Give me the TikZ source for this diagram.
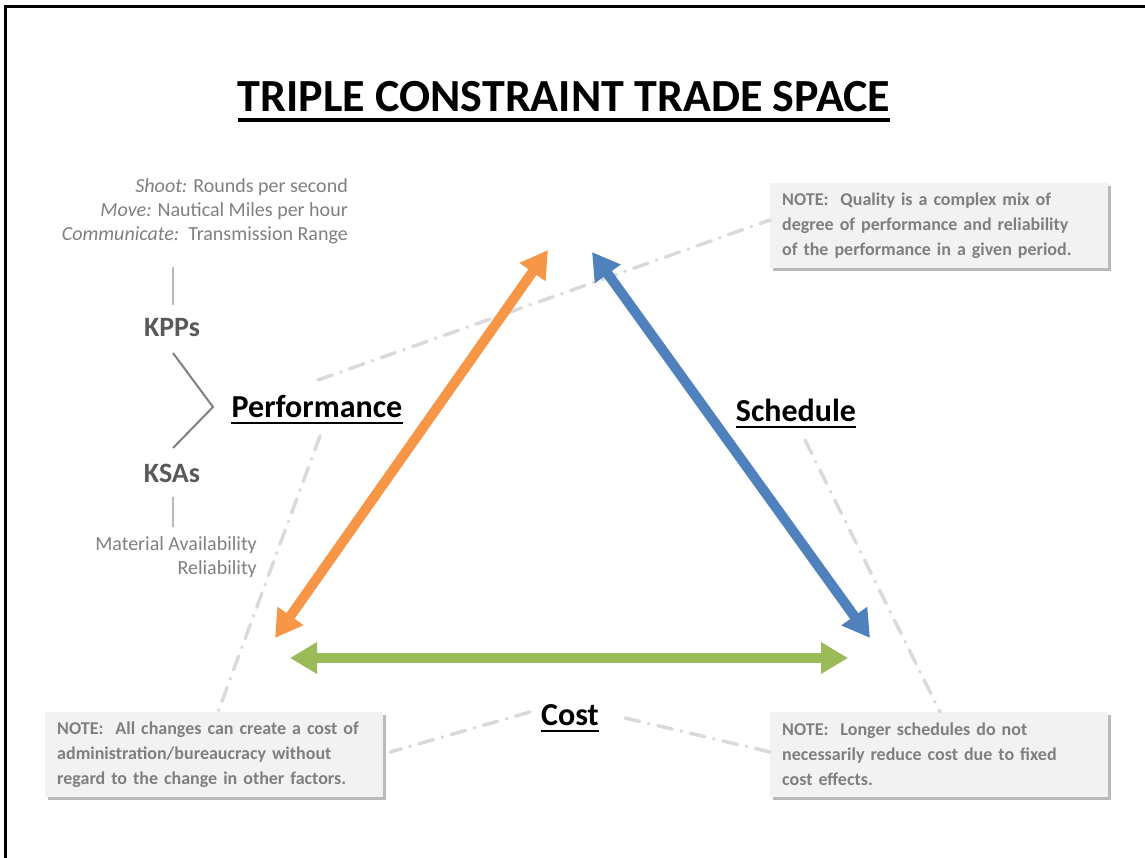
\documentclass[tikz,border=0pt]{standalone}
\usepackage{fontspec}
\setmainfont{Carlito}
\usetikzlibrary{arrows.meta,shadows}

\definecolor{perfOrange}{HTML}{F79646}
\definecolor{schedBlue}{HTML}{4F81BD}
\definecolor{costGreen}{HTML}{9BBB59}
\definecolor{noteFill}{HTML}{F2F2F2}
\definecolor{noteText}{HTML}{7F7F7F}
\definecolor{darkText}{HTML}{595959}
\definecolor{guideGray}{HTML}{DADADA}

\tikzset{
    side/.style={line width=10pt,
        {Triangle[length=27pt,width=30pt]}-{Triangle[length=27pt,width=30pt]}},
    notebox/.style={fill=noteFill, text=noteText, anchor=north west,
        font=\fontsize{18}{25}\selectfont\bfseries,
        text width=314pt, minimum height=85pt, align=left,
        inner xsep=12pt, inner ysep=5pt,
        drop shadow={shadow xshift=3pt, shadow yshift=-3pt, fill=black!45, opacity=0.6}},
    guide/.style={draw=guideGray, line width=3.5pt, line cap=round,
        dash pattern=on 15pt off 9pt on 0.5pt off 9pt},
    heading/.style={font=\fontsize{32}{36}\selectfont\bfseries, inner sep=0pt},
    hint/.style={text=noteText, font=\fontsize{20}{24}\selectfont, inner sep=0pt, anchor=base east},
}

\begin{document}
\begin{tikzpicture}[x=1pt,y=-1pt]

    \useasboundingbox (0,0) rectangle (1145,858);
    \draw[line width=3pt] (5,858) -- (5,7) -- (1145,7);

    % title
    \node[font=\fontsize{46}{50}\selectfont\bfseries, inner sep=0pt] (title) at (564,97)
        {TRIPLE CONSTRAINT TRADE SPACE};
    \draw[line width=3.5pt] ([yshift=-8pt]title.base west) -- ([yshift=-8pt]title.base east);

    % corners of the triangle
    \coordinate (perfLow) at (275,638);
    \coordinate (perfTop) at (548,250);
    \coordinate (schedTop) at (592,252);
    \coordinate (schedLow) at (870,638);
    \coordinate (costLeft) at (290,658);
    \coordinate (costRight) at (848,658);

    % notes
    \node[notebox] (noteQuality) at (770,183)
        {NOTE:\ \ Quality is a complex mix of\\ degree of performance and reliability\\ of the performance in a given period.};
    \node[notebox] (noteChanges) at (45,712)
        {NOTE:\ \ All changes can create a cost of\\ administration/bureaucracy without\\ regard to the change in other factors.};
    \node[notebox] (noteLonger) at (770,712)
        {NOTE:\ \ Longer schedules do not\\ necessarily reduce cost due to fixed\\ cost effects.};

    % labels
    \node[heading] (perf) at (317,406) {Performance};
    \node[heading] (sched) at (796,410) {Schedule};
    \node[heading] (cost) at (570,715) {Cost};
    \foreach \lbl in {perf,sched,cost}
        \draw[line width=2pt] ([yshift=-6pt]\lbl.base west) -- ([yshift=-6pt]\lbl.base east);

    \coordinate (perfUp) at (318,380);
    \coordinate (perfDown) at (320,436);
    \coordinate (schedDown) at (805,440);
    \coordinate (costW) at (530,712);
    \coordinate (costE) at (625,718);
    \coordinate (qualityIn) at (770,220);
    \coordinate (changesTop) at (218,712);
    \coordinate (changesIn) at (390,752);
    \coordinate (longerTop) at (940,712);
    \coordinate (longerIn) at (770,752);

    \draw[guide] (perfUp) -- (qualityIn);
    \draw[guide] (perfDown) -- (changesTop);
    \draw[guide] (schedDown) -- (longerTop);
    \draw[guide] (costW) -- (changesIn);
    \draw[guide] (costE) -- (longerIn);

    % sides
    \draw[side, perfOrange] (perfLow) -- (perfTop);
    \draw[side, schedBlue] (schedTop) -- (schedLow);
    \draw[side, costGreen] (costLeft) -- (costRight);

    % performance measures
    \node[hint] (shoot) at (348,193) {\textit{Shoot:} Rounds per second};
    \node[hint] (move) at (348,217) {\textit{Move:} Nautical Miles per hour};
    \node[hint] (comm) at (348,241) {\textit{Communicate:}\ \ Transmission Range};

    \node[font=\fontsize{28}{30}\selectfont\bfseries, text=darkText] (kpp) at (172,328) {KPPs};
    \node[font=\fontsize{28}{30}\selectfont\bfseries, text=darkText] (ksa) at (172,473) {KSAs};

    \node[hint] (matav) at (257,550) {Material Availability};
    \node[hint] (relia) at (257,574) {Reliability};

    \draw[line width=2pt, gray!55] (173,267) -- (173,305);
    \draw[line width=2pt, gray!55] (173,497) -- (173,527);
    \draw[line width=2pt, gray] (173,353) -- (213,407) -- (173,448);

\end{tikzpicture}
\end{document}
